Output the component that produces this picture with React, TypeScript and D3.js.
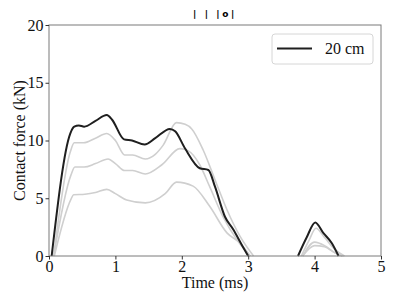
import React, { useEffect, useRef } from "react";
import * as d3 from "d3";

// time (ms) / contact force (kN)
const timeMain = [0.04, 0.32, 0.38, 0.45, 0.53, 0.7, 0.87, 0.95, 1.13, 1.25, 1.44, 1.6, 1.82, 1.9, 2.05, 2.27, 2.4, 2.5, 2.65, 2.78, 2.9, 3.0, 3.75, 3.88, 4.01, 4.13, 4.26, 4.36];
const forceMain = [0, 10.6, 11.2, 11.3, 11.2, 11.7, 12.2, 11.8, 10.1, 10.0, 9.65, 10.2, 11.0, 10.8, 9.3, 7.6, 7.45, 6.0, 3.4, 2.25, 1.0, 0, 0, 1.6, 2.9, 2.0, 1.1, 0];

const timeG1 = [0.07, 0.32, 0.38, 0.52, 0.7, 0.87, 1.0, 1.14, 1.26, 1.45, 1.6, 1.72, 1.92, 2.05, 2.15, 2.32, 2.52, 2.68, 2.88, 3.08, 3.8, 3.92, 4.02, 4.15, 4.3, 4.45];
const forceG1 = [0, 9.0, 9.8, 9.8, 10.2, 10.6, 10.0, 8.75, 8.75, 8.4, 8.8, 9.6, 11.55, 11.4, 11.0, 9.2, 6.3, 4.0, 1.67, 0, 0, 1.4, 2.4, 1.6, 0.6, 0];

const timeG2 = [0.07, 0.33, 0.39, 0.53, 0.7, 0.89, 1.0, 1.14, 1.26, 1.45, 1.7, 1.97, 2.1, 2.27, 2.42, 2.62, 2.83, 3.03, 3.82, 4.0, 4.15, 4.3, 4.42];
const forceG2 = [0, 7.0, 7.7, 7.7, 8.0, 8.4, 8.0, 7.4, 7.4, 7.1, 7.9, 9.3, 9.1, 7.9, 6.0, 3.4, 1.4, 0, 0, 1.2, 0.9, 0.3, 0];

const timeG3 = [0.08, 0.33, 0.37, 0.54, 0.7, 0.87, 1.0, 1.17, 1.45, 1.75, 1.92, 2.17, 2.42, 2.68, 2.88, 3.03, 3.82, 4.0, 4.15, 4.3, 4.42];
const forceG3 = [0, 4.9, 5.3, 5.35, 5.5, 5.77, 5.4, 4.85, 4.6, 5.4, 6.4, 6.05, 4.3, 2.0, 1.1, 0, 0, 0.9, 0.8, 0.3, 0];

const xTicks = [0, 1, 2, 3, 4, 5];
const yTicks = [0, 5, 10, 15, 20];
const legendLabel = "20 cm";
const titleText = "| | |o|";

// split a series where it sits on zero between two impacts
function segments(t: number[], f: number[]) {
    const out: [number, number][][] = [];
    let cur: [number, number][] = [];
    t.forEach((v, i) => {
        if (i > 0 && f[i] === 0 && f[i - 1] === 0) {
            out.push(cur);
            cur = [];
        }
        cur.push([v, f[i]]);
    });
    out.push(cur);
    return out;
}

function App() {
    const ref = useRef<SVGSVGElement>(null);
    useEffect(() => {
        const svg = d3.select(ref.current);
        svg.selectAll("*").remove();
        const w = 395;
        const h = 304;
        const m = { left: 49, right: 14, top: 25, bottom: 48 };
        const font = "Liberation Serif, Times New Roman, Times, serif";

        const x = d3.scaleLinear().domain([0, 5]).range([m.left, w - m.right]);
        const y = d3.scaleLinear().domain([0, 20]).range([h - m.bottom, m.top]);

        const line = d3
            .line<[number, number]>()
            .x(d => x(d[0]))
            .y(d => y(d[1]))
            .curve(d3.curveMonotoneX);

        const grays = [segments(timeG3, forceG3), segments(timeG2, forceG2), segments(timeG1, forceG1)].flat();
        svg.selectAll(".gray")
            .data(grays)
            .join("path")
            .attr("d", d => line(d))
            .attr("fill", "none")
            .attr("stroke", "#cfcfcf")
            .attr("stroke-width", 1.6);

        svg.selectAll(".main")
            .data(segments(timeMain, forceMain))
            .join("path")
            .attr("d", d => line(d))
            .attr("fill", "none")
            .attr("stroke", "#1f1f1f")
            .attr("stroke-width", 2);

        // frame
        svg.append("rect")
            .attr("x", m.left)
            .attr("y", m.top)
            .attr("width", w - m.left - m.right)
            .attr("height", h - m.top - m.bottom)
            .attr("fill", "none")
            .attr("stroke", "#7a7a7a")
            .attr("stroke-width", 1);

        const xAxis = d3.axisBottom(x).tickValues(xTicks).tickSize(3.5).tickPadding(1).tickFormat(d3.format("d"));
        const yAxis = d3.axisLeft(y).tickValues(yTicks).tickSize(3.5).tickPadding(2).tickFormat(d3.format("d"));

        const gx = svg.append("g").attr("transform", `translate(0, ${h - m.bottom})`).call(xAxis);
        const gy = svg.append("g").attr("transform", `translate(${m.left}, 0)`).call(yAxis);
        [gx, gy].forEach(g => {
            g.attr("font-family", null).attr("font-size", null);
            g.select(".domain").remove();
            g.selectAll("line").attr("stroke", "#333");
            g.selectAll("text").style("font-family", font).style("font-size", "16px").attr("fill", "#111");
        });

        svg.append("text")
            .attr("x", (m.left + w - m.right) / 2)
            .attr("y", 288)
            .attr("text-anchor", "middle")
            .style("font-family", font)
            .style("font-size", "16px")
            .attr("fill", "#111")
            .text("Time (ms)");

        svg.append("text")
            .attr("transform", `translate(25, ${(m.top + h - m.bottom) / 2}) rotate(-90)`)
            .attr("text-anchor", "middle")
            .style("font-family", font)
            .style("font-size", "16px")
            .attr("fill", "#111")
            .text("Contact force (kN)");

        svg.append("text")
            .attr("x", (m.left + w - m.right) / 2)
            .attr("y", 17)
            .attr("text-anchor", "middle")
            .style("font-family", "DejaVu Sans, sans-serif")
            .style("font-size", "9px")
            .style("font-weight", "bold")
            .style("letter-spacing", "2.6px")
            .style("white-space", "pre")
            .attr("fill", "#000")
            .text(titleText);

        // legend
        const lg = svg.append("g");
        lg.append("rect")
            .attr("x", 272)
            .attr("y", 34)
            .attr("width", 101)
            .attr("height", 30)
            .attr("rx", 3)
            .attr("fill", "#fff")
            .attr("fill-opacity", 0.8)
            .attr("stroke", "#d6d6d6");
        lg.append("line")
            .attr("x1", 277)
            .attr("x2", 312)
            .attr("y1", 48.5)
            .attr("y2", 48.5)
            .attr("stroke", "#1f1f1f")
            .attr("stroke-width", 2);
        lg.append("text")
            .attr("x", 325)
            .attr("y", 54)
            .style("font-family", font)
            .style("font-size", "16px")
            .attr("fill", "#111")
            .text(legendLabel);
    }, []);

    return <svg ref={ref} width={395} height={304} style={{ position: "absolute", left: 0, top: 0, background: "#fff" }} />;
}

export default App;
